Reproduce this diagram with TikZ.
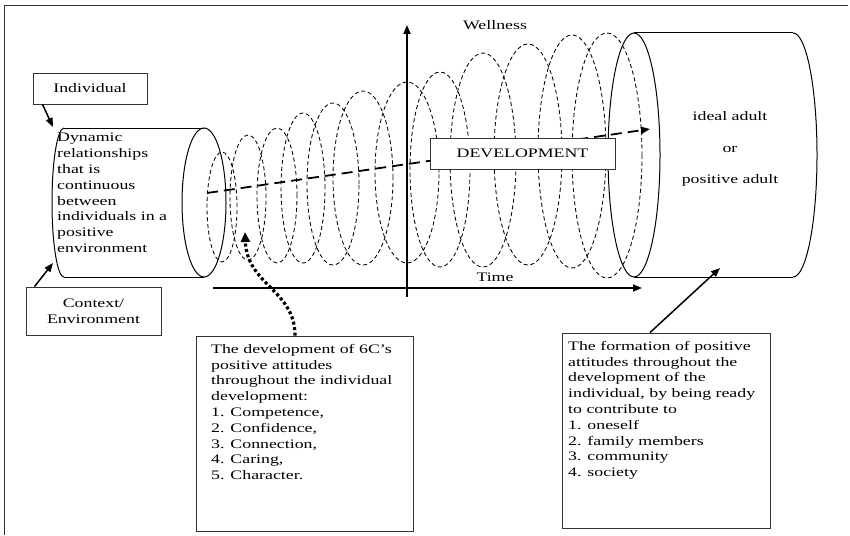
\documentclass[tikz,border=0pt]{standalone}
\usepackage{fontspec}
\setmainfont{Liberation Serif}[FakeStretch=1.37]
\usetikzlibrary{arrows.meta, positioning, calc}

\begin{document}
\begin{tikzpicture}[x=1pt, y=1pt,
    font=\fontsize{13}{15.8}\selectfont,
    box/.style={draw=black!80, line width=0.9pt, fill=white},
    txt/.style={inner sep=0pt, align=left, anchor=north west},
    coil/.style={dash pattern=on 4pt off 2.8pt, line width=0.85pt},
    cyl/.style={line width=1pt},
    axis/.style={line width=1.8pt, -{Triangle[length=9pt, width=7pt]}},
    pointer/.style={line width=1.5pt, -{Triangle[length=9pt, width=7pt]}}]

  \useasboundingbox (0,0) rectangle (850,-535);
  \draw[black!80, line width=0.9pt] (4,-535) -- (4,-5) -- (848,-5);

  % coil of growing rings
  \foreach \cx/\ya/\yb/\rx in {222/152/262/15, 248/135/260/18, 277/128/263/20,
      303/113/263/22, 333/103/265/26, 363/91/265/30, 407/82/263/32,
      440/72/267/30, 483/53/267/33, 528/44/265/34, 572/35/268/34, 607/33/278/35}
    \draw[coil] (\cx, {-(\ya+\yb)/2}) ellipse [x radius=\rx, y radius={(\yb-\ya)/2}];

  % left cylinder
  \draw[cyl] (64,-128) -- (204,-128);
  \draw[cyl] (64,-277) -- (204,-277);
  \draw[cyl] (64,-128) arc[start angle=90, end angle=270, x radius=12, y radius=74.5];
  \draw[cyl] (204,-202.5) ellipse [x radius=22, y radius=74.5];
  \node[txt] (dyn) at (57,-133) {Dynamic\\relationships\\that is\\continuous\\between\\individuals in a\\positive\\environment};

  % right cylinder
  \draw[cyl] (634,-33) -- (793,-33);
  \draw[cyl] (634,-277) -- (793,-277);
  \draw[cyl] (793,-33) arc[start angle=90, end angle=-90, x radius=24, y radius=122];
  \draw[cyl] (634,-155) ellipse [x radius=26, y radius=122];
  \node[align=center] (adult) at (730,-149) {ideal adult\\[16pt]or\\[16pt]positive adult};

  % axes
  \coordinate (t0) at (213,-288);
  \coordinate (t1) at (642,-288);
  \coordinate (w0) at (407,-297);
  \coordinate (w1) at (407,-25);
  \draw[axis] (t0) -- (t1);
  \draw[axis] (w0) -- (w1);
  \node (time) at (495,-277) {Time};
  \node (well) at (495,-25) {Wellness};

  % development arrow
  \coordinate (devstart) at (207,-193);
  \coordinate (devend) at (650,-129);
  \draw[line width=1.8pt, dash pattern=on 11pt off 6pt, -{Triangle[length=9pt, width=7pt]}] (devstart) -- (devend);
  \node[box, minimum width=185pt, minimum height=31pt] (devel) at (522.5,-153.5) {DEVELOPMENT};

  % labels on the left
  \node[box, minimum width=114pt, minimum height=31pt] (indiv) at (90,-88.5) {Individual};
  \node[box, minimum width=135pt, minimum height=48pt, align=center] (context) at (93.5,-311) {Context/\\Environment};
  \coordinate (indtip) at (53,-127);
  \coordinate (contip) at (53,-263);
  \draw[pointer] ([xshift=10pt]indiv.south west) -- (indtip);
  \draw[pointer] ([xshift=9pt]context.north west) -- (contip);

  % bottom boxes
  \node[box, minimum width=217pt, minimum height=195pt] (sixc) at (304.5,-433.5) {};
  \node[txt] (sixctxt) at (211,-344) {The development of 6C’s\\positive attitudes\\throughout the individual\\development:\\1. Competence,\\2. Confidence,\\3. Connection,\\4. Caring,\\5. Character.};
  \node[box, minimum width=208pt, minimum height=195pt] (form) at (666,-430.5) {};
  \node[txt] (formtxt) at (568,-341) {The formation of positive\\attitudes throughout the\\development of the\\individual, by being ready\\to contribute to\\1. oneself\\2. family members\\3. community\\4. society};

  \coordinate (coiltip) at (245,-232);
  \coordinate (adtip) at (720,-268);
  \draw[line width=3.2pt, dash pattern=on 3pt off 2.5pt, -{Triangle[length=10pt, width=9pt]}]
    ([xshift=-9.5pt]sixc.north) .. controls (295,-290) and (247,-285) .. (coiltip);
  \draw[pointer] ([xshift=-16pt]form.north) -- (adtip);
\end{tikzpicture}
\end{document}
